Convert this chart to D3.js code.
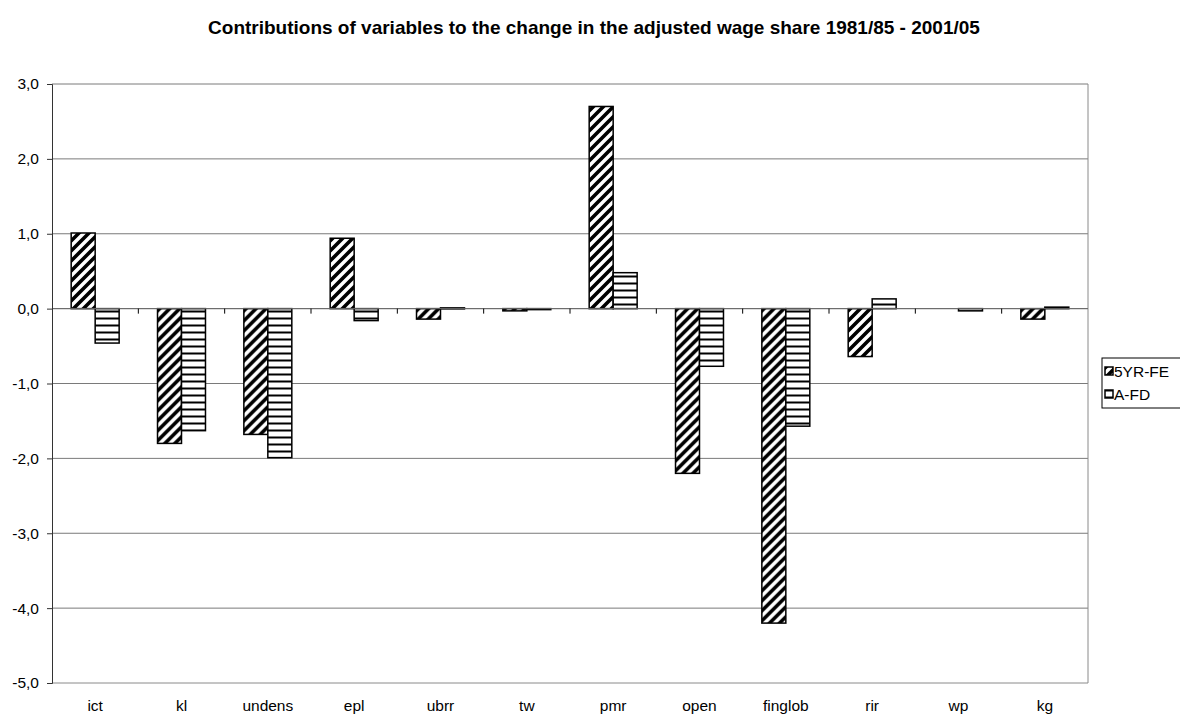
<!DOCTYPE html>
<html>
<head>
<meta charset="utf-8">
<script src="https://cdn.jsdelivr.net/npm/d3@7"></script>
<style>
  body { margin: 0; background: #fff; }
  svg { font-family: "Liberation Sans", Arial, sans-serif; }
</style>
</head>
<body>
<svg id="chart" width="1180" height="715"></svg>
<script>
// categories and the two estimation series
var categories = ["ict", "kl", "undens", "epl", "ubrr", "tw", "pmr", "open", "finglob", "rir", "wp", "kg"];
var seriesNames = ["5YR-FE", "A-FD"];
var fe5yr = [1.01, -1.80, -1.68, 0.94, -0.14, -0.03, 2.70, -2.20, -4.20, -0.64, 0.00, -0.14];
var afd   = [-0.46, -1.63, -1.99, -0.16, 0.01, -0.01, 0.48, -0.77, -1.57, 0.13, -0.03, 0.02];
var yTicks = [-5, -4, -3, -2, -1, 0, 1, 2, 3];

var svg = d3.select("#chart");
var plot = { left: 52, right: 1088, top: 84, bottom: 683 };

var locale = d3.formatLocale({ decimal: ",", thousands: ".", grouping: [3], minus: "-" });
var fmt = locale.format(".1f");

var x = d3.scaleBand().domain(categories).range([plot.left, plot.right]).padding(0);
var xSub = d3.scaleBand().domain(seriesNames).range([0, x.bandwidth()]).paddingInner(0).paddingOuter(0.8);
var y = d3.scaleLinear().domain([-5, 3]).range([plot.bottom, plot.top]);

// fill patterns
var defs = svg.append("defs");
var diag = defs.append("pattern")
    .attr("id", "diag").attr("patternUnits", "userSpaceOnUse")
    .attr("width", 10).attr("height", 10);
diag.append("rect").attr("width", 10).attr("height", 10).attr("fill", "#fff");
diag.append("path")
    .attr("d", "M-3,3 L3,-3 M0,10 L10,0 M7,13 L13,7")
    .attr("stroke", "#000").attr("stroke-width", 3.6);

var horiz = defs.append("pattern")
    .attr("id", "horiz").attr("patternUnits", "userSpaceOnUse")
    .attr("width", 8).attr("height", 7);
horiz.append("rect").attr("width", 8).attr("height", 7).attr("fill", "#fff");
horiz.append("rect").attr("y", 2.5).attr("width", 8).attr("height", 2).attr("fill", "#000");

var fills = { "5YR-FE": "url(#diag)", "A-FD": "url(#horiz)" };

// title
svg.append("text")
    .attr("x", 594).attr("y", 34)
    .attr("text-anchor", "middle")
    .attr("font-size", 19).attr("font-weight", "bold")
    .text("Contributions of variables to the change in the adjusted wage share 1981/85 - 2001/05");

// gridlines
svg.append("g").selectAll("line")
    .data(yTicks.filter(d => d !== -5))
    .join("line")
    .attr("x1", plot.left).attr("x2", plot.right)
    .attr("y1", d => y(d)).attr("y2", d => y(d))
    .attr("stroke", "#7a7a7a").attr("stroke-width", 1);

// plot frame (right and bottom)
svg.append("path")
    .attr("d", "M" + plot.right + "," + plot.top + "V" + plot.bottom + "H" + plot.left)
    .attr("fill", "none").attr("stroke", "#8a8a8a").attr("stroke-width", 1);

// bars
var rows = categories.map((c, i) => ({ cat: c, vals: [
    { s: "5YR-FE", v: fe5yr[i] },
    { s: "A-FD", v: afd[i] }
]}));

svg.append("g").selectAll("g")
    .data(rows)
    .join("g")
    .attr("transform", d => "translate(" + x(d.cat) + ",0)")
    .selectAll("rect")
    .data(d => d.vals.filter(p => p.v !== 0))
    .join("rect")
    .attr("x", p => xSub(p.s))
    .attr("width", xSub.bandwidth())
    .attr("y", p => y(Math.max(0, p.v)))
    .attr("height", p => Math.max(1, Math.abs(y(p.v) - y(0))))
    .attr("fill", p => fills[p.s])
    .attr("stroke", "#000").attr("stroke-width", 1.5);

// zero axis with category boundary ticks
svg.append("line")
    .attr("x1", plot.left).attr("x2", plot.right)
    .attr("y1", y(0)).attr("y2", y(0))
    .attr("stroke", "#6a6a6a").attr("stroke-width", 1);
svg.append("g").selectAll("line")
    .data(categories.slice(1))
    .join("line")
    .attr("x1", d => x(d)).attr("x2", d => x(d))
    .attr("y1", y(0)).attr("y2", y(0) + 5)
    .attr("stroke", "#000");

// y axis
var yAxis = d3.axisLeft(y).tickValues(yTicks).tickFormat(fmt).tickSize(5).tickPadding(8);
var gy = svg.append("g").attr("transform", "translate(" + plot.left + ",0)").call(yAxis);
gy.select(".domain").attr("stroke", "#333");
gy.selectAll(".tick line").attr("stroke", "#333");
gy.selectAll("text").attr("font-size", 15.5).attr("fill", "#000")
    .attr("font-family", "Liberation Sans, Arial, sans-serif");

// category labels
svg.append("g").selectAll("text")
    .data(categories)
    .join("text")
    .attr("x", d => x(d) + x.bandwidth() / 2)
    .attr("y", 711)
    .attr("text-anchor", "middle")
    .attr("font-size", 15.5)
    .text(d => d);

// legend
var leg = svg.append("g").attr("transform", "translate(1102,358)");
leg.append("rect")
    .attr("width", 90).attr("height", 50)
    .attr("fill", "#fff").attr("stroke", "#000").attr("stroke-width", 1);
var li = leg.selectAll("g.item")
    .data(seriesNames)
    .join("g").attr("class", "item")
    .attr("transform", (d, i) => "translate(0," + (13 + i * 23) + ")");
li.append("rect")
    .attr("x", 3).attr("y", -4).attr("width", 8).attr("height", 8)
    .attr("fill", d => fills[d]).attr("stroke", "#000").attr("stroke-width", 1.5);
li.append("text")
    .attr("x", 12).attr("y", 5.5)
    .attr("font-size", 15.5)
    .text(d => d);
</script>
</body>
</html>
